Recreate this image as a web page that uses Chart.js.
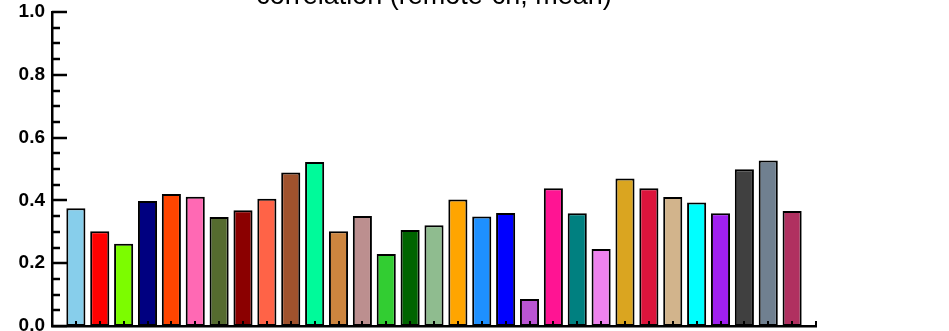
<!DOCTYPE html>
<html>
<head>
<meta charset="utf-8">
<script src="https://cdn.jsdelivr.net/npm/chart.js@4/dist/chart.umd.min.js"></script>
<style>
  html, body { margin: 0; padding: 0; background: #fff; }
  #wrap { position: relative; width: 949px; height: 331px; }
</style>
</head>
<body>
<div id="wrap"><canvas id="chart" width="949" height="331"></canvas></div>
<script>
// data
var positions = [1, 2, 3, 4, 5, 6, 7, 8, 9, 10, 11, 12, 13, 14, 15, 16,
                 17, 18, 19, 20, 21, 22, 23, 24, 25, 26, 27, 28, 29, 30, 31];
var correlations = [0.375, 0.302, 0.262, 0.398, 0.420, 0.412, 0.347, 0.369,
                    0.405, 0.489, 0.522, 0.302, 0.350, 0.229, 0.306, 0.321,
                    0.403, 0.349, 0.360, 0.086, 0.439, 0.359, 0.245, 0.470,
                    0.439, 0.411, 0.393, 0.359, 0.499, 0.527, 0.366];
var barColors = ['#87ceeb', '#ff0000', '#7cfc00', '#000080', '#ff4500', '#ff69b4',
                 '#556b2f', '#8b0000', '#ff6347', '#a0522d', '#00fa9a', '#cd853f',
                 '#bc8f8f', '#32cd32', '#006400', '#8fbc8f', '#ffa500', '#1e90ff',
                 '#0000ff', '#ba55d3', '#ff1493', '#008080', '#ee82ee', '#daa520',
                 '#dc143c', '#d2b48c', '#00ffff', '#a020f0', '#404040', '#708090',
                 '#b03060'];
var yTickLabels = [0.0, 0.2, 0.4, 0.6, 0.8, 1.0];
var chartTitle = 'correlation (remote-ch, mean)';

// inward ticks + title, drawn like the IDL plot
var idlAxes = {
    id: 'idlAxes',
    afterDraw: function (chart) {
        var ctx = chart.ctx;
        var xs = chart.scales.x, ys = chart.scales.y;
        var left = chart.chartArea.left, bottom = chart.chartArea.bottom;
        ctx.save();
        ctx.strokeStyle = '#000';
        ctx.lineWidth = 2.5;
        ctx.beginPath();
        for (var v = 0; v <= 20; v++) {
            var py = Math.round(ys.getPixelForValue(v * 0.05));
            var len = (v % 4 === 0) ? 15 : 8;
            ctx.moveTo(left, py);
            ctx.lineTo(left + len, py);
        }
        ctx.stroke();
        ctx.lineWidth = 2;
        ctx.beginPath();
        for (var i = 1; i <= 32; i++) {
            var px = Math.round(xs.getPixelForValue(i));
            ctx.moveTo(px, bottom);
            ctx.lineTo(px, bottom - 5);
        }
        ctx.stroke();
        ctx.fillStyle = '#000';
        ctx.font = '27px "Liberation Sans", sans-serif';
        ctx.textAlign = 'center';
        ctx.textBaseline = 'alphabetic';
        ctx.fillText(chartTitle, (chart.chartArea.left + chart.chartArea.right) / 2, 4);
        ctx.restore();
    }
};

var ctx = document.getElementById('chart').getContext('2d');
var chart = new Chart(ctx, {
    type: 'bar',
    data: {
        labels: positions,
        datasets: [{
            data: correlations,
            backgroundColor: barColors,
            borderColor: '#000',
            borderWidth: 2,
            borderSkipped: false,
            barPercentage: 0.8,
            categoryPercentage: 1.0
        }]
    },
    options: {
        responsive: false,
        animation: false,
        devicePixelRatio: 1,
        layout: { padding: { top: 12, right: 133, left: 0, bottom: 0 } },
        plugins: {
            legend: { display: false },
            tooltip: { enabled: false }
        },
        scales: {
            x: {
                type: 'linear',
                min: 0,
                max: 32,
                offset: false,
                grid: { display: false, drawTicks: false },
                border: { display: true, color: '#000', width: 2.5 },
                ticks: { display: false },
                afterFit: function (s) {
                    s.height = 5;
                    s.paddingLeft = 0; s.paddingRight = 0;
                }
            },
            y: {
                min: 0,
                max: 1,
                grid: { display: false, drawTicks: false },
                border: { display: true, color: '#000', width: 2.5 },
                afterBuildTicks: function (s) {
                    s.ticks = yTickLabels.map(function (v) { return { value: v }; });
                },
                ticks: {
                    padding: 7,
                    color: '#000',
                    font: { family: '"Liberation Sans", sans-serif', size: 19, weight: 'bold' },
                    callback: function (v) { return v.toFixed(1); }
                },
                afterFit: function (s) {
                    s.width = 52;
                    s.paddingTop = 0; s.paddingBottom = 0;
                }
            }
        }
    },
    plugins: [idlAxes]
});
</script>
</body>
</html>
